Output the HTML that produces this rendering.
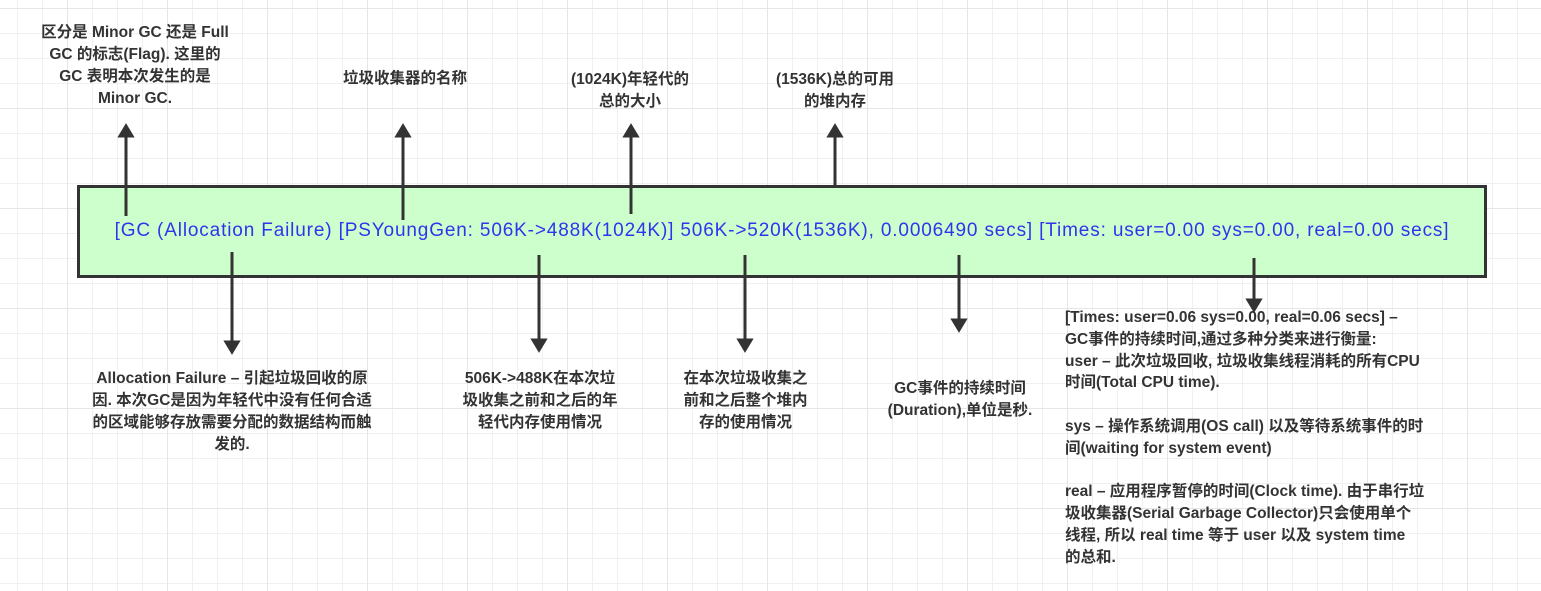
<!DOCTYPE html>
<html><head><meta charset="utf-8"><style>
body{margin:0;width:1541px;height:591px;overflow:hidden;background:#fff;
background-image:linear-gradient(#e6e6e6 1px,transparent 1px),linear-gradient(90deg,#e6e6e6 1px,transparent 1px),linear-gradient(#f0f0f0 1px,transparent 1px),linear-gradient(90deg,#f0f0f0 1px,transparent 1px);
background-size:100px 100px,100px 100px,25px 25px,25px 25px;background-position:0 8px,67px 0,0 8px,17px 0;
font-family:"Liberation Sans","Noto Sans CJK SC",sans-serif;position:relative}
.t{position:absolute;font-weight:bold;font-size:15.5px;line-height:22px;color:#333;text-align:center;white-space:nowrap}
.box{position:absolute;left:77px;top:185px;width:1404px;height:87px;border:3px solid #333;background:#ccffcc}
.bt{position:absolute;left:77px;top:220px;width:1410px;text-align:center;color:#3333ee;font-size:19px;letter-spacing:0.85px;white-space:nowrap}
svg{position:absolute;left:0;top:0}
</style></head><body>
<div class="box"></div>
<div class="bt">[GC (Allocation Failure) [PSYoungGen: 506K-&gt;488K(1024K)] 506K-&gt;520K(1536K), 0.0006490 secs] [Times: user=0.00 sys=0.00, real=0.00 secs]</div>
<svg width="1541" height="591">
<g stroke="#333" stroke-width="3" fill="#333">
<line x1="126" y1="216" x2="126" y2="134"/><path d="M120,136 L126,126 L132,136 z"/>
<line x1="403" y1="220" x2="403" y2="134"/><path d="M397,136 L403,126 L409,136 z"/>
<line x1="631" y1="214" x2="631" y2="134"/><path d="M625,136 L631,126 L637,136 z"/>
<line x1="835" y1="186" x2="835" y2="134"/><path d="M829,136 L835,126 L841,136 z"/>
<line x1="232" y1="252" x2="232" y2="344"/><path d="M226,342 L232,352 L238,342 z"/>
<line x1="539" y1="255" x2="539" y2="342"/><path d="M533,340 L539,350 L545,340 z"/>
<line x1="745" y1="255" x2="745" y2="342"/><path d="M739,340 L745,350 L751,340 z"/>
<line x1="959" y1="255" x2="959" y2="322"/><path d="M953,320 L959,330 L965,320 z"/>
<line x1="1254" y1="258" x2="1254" y2="302"/><path d="M1248,300 L1254,310 L1260,300 z"/>
</g></svg>
<div class="t" style="left:20px;top:22px;width:230px">区分是 Minor GC 还是 Full<br>GC 的标志(Flag). 这里的<br>GC 表明本次发生的是<br>Minor GC.</div>
<div class="t" style="left:320px;top:68px;width:170px">垃圾收集器的名称</div>
<div class="t" style="left:545px;top:69px;width:170px">(1024K)年轻代的<br>总的大小</div>
<div class="t" style="left:750px;top:69px;width:170px">(1536K)总的可用<br>的堆内存</div>
<div class="t" style="left:62px;top:368px;width:340px">Allocation Failure – 引起垃圾回收的原<br>因. 本次GC是因为年轻代中没有任何合适<br>的区域能够存放需要分配的数据结构而触<br>发的.</div>
<div class="t" style="left:440px;top:368px;width:200px">506K-&gt;488K在本次垃<br>圾收集之前和之后的年<br>轻代内存使用情况</div>
<div class="t" style="left:668px;top:368px;width:155px">在本次垃圾收集之<br>前和之后整个堆内<br>存的使用情况</div>
<div class="t" style="left:865px;top:378px;width:190px">GC事件的持续时间<br>(Duration),单位是秒.</div>
<div class="t" style="left:1065px;top:307px;width:420px;text-align:left;line-height:21.8px">[Times: user=0.06 sys=0.00, real=0.06 secs] –<br>GC事件的持续时间,通过多种分类来进行衡量:<br>user – 此次垃圾回收, 垃圾收集线程消耗的所有CPU<br>时间(Total CPU time).<br><br>sys – 操作系统调用(OS call) 以及等待系统事件的时<br>间(waiting for system event)<br><br>real – 应用程序暂停的时间(Clock time). 由于串行垃<br>圾收集器(Serial Garbage Collector)只会使用单个<br>线程, 所以 real time 等于 user 以及 system time<br>的总和.</div>
</body></html>
